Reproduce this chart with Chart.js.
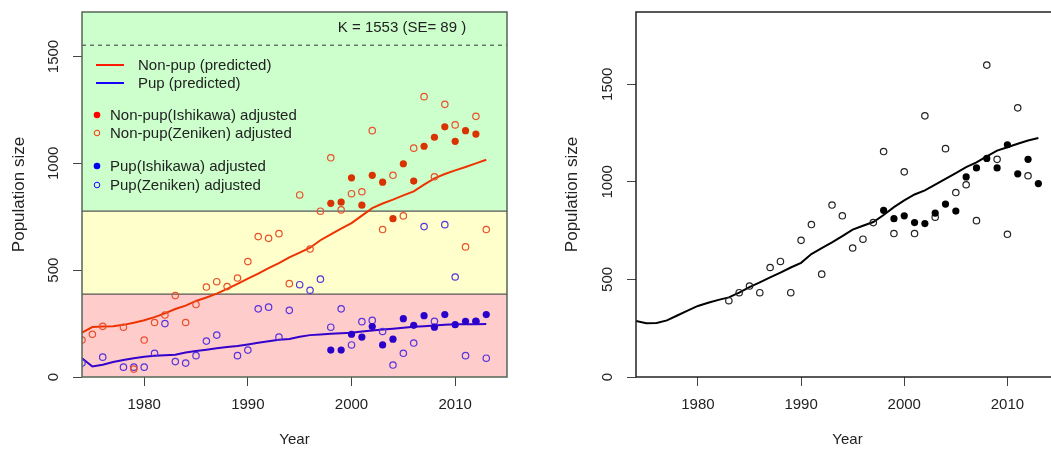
<!DOCTYPE html>
<html>
<head>
<meta charset="utf-8">
<script src="https://cdn.jsdelivr.net/npm/chart.js@4"></script>
<style>
  html, body { margin: 0; padding: 0; background: #fff; overflow: hidden; width: 1051px; height: 455px; }
  #left { position: absolute; left: 0; top: 0; width: 525px; height: 455px; }
  #right { position: absolute; left: 540px; top: 0; width: 530px; height: 455px; }
</style>
</head>
<body>
<div id="left"><canvas id="leftChart"></canvas></div>
<div id="right"><canvas id="rightChart"></canvas></div>
<script>
const years = [1974, 1975, 1976, 1977, 1978, 1979, 1980, 1981, 1982, 1983,
  1984, 1985, 1986, 1987, 1988, 1989, 1990, 1991, 1992, 1993,
  1994, 1995, 1996, 1997, 1998, 1999, 2000, 2001, 2002, 2003,
  2004, 2005, 2006, 2007, 2008, 2009, 2010, 2011, 2012, 2013];
const ishikawaYears = [1998, 1999, 2000, 2001, 2002, 2003, 2004, 2005,
  2006, 2007, 2008, 2009, 2010, 2011, 2012, 2013];

const xTicks = [1980, 1990, 2000, 2010];
const yTicks = [0, 500, 1000, 1500];

const K = 1553;
const kSE = 89;

// left panel: non-pup / pup
const nonPupPred = [208, 234, 236, 238, 244, 254, 266, 280, 298, 318,
  334, 356, 372, 390, 412, 436, 460, 484, 510, 533,
  560, 582, 605, 640, 668, 694, 720, 755, 790, 812,
  830, 850, 869, 900, 930, 950, 967, 983, 1000, 1017];
const pupPred = [88, 49, 57, 70, 80, 88, 95, 100, 102, 104,
  115, 122, 128, 135, 140, 145, 152, 160, 167, 174,
  178, 188, 196, 199, 202, 205, 207, 213, 218, 222,
  226, 230, 235, 238, 241, 244, 247, 247, 247, 248];
const nonPupZeniken = [173, 200, 237, null, 233, 37, 173, 255, 290, 381,
  255, 339, 421, 446, 423, 463, 540, 657, 649, 671,
  437, 852, 599, 776, 1026, 782, 858, 867, 1153, 690,
  944, 754, 1071, 1312, 937, 1276, 1180, 609, 1220, 690];
const pupZeniken = [65, null, 93, null, 46, 46, 46, 111, 250, 72,
  65, 100, 168, 196, null, 100, 126, 319, 327, 187,
  312, 432, 406, 458, 233, 319, 150, 259, 265, 213,
  56, 111, 159, 704, 261, 713, 468, 100, 261, 88];
const nonPupIshikawa = [813, 818, 932, 804, 944, 912, 741, 998,
  917, 1080, 1122, 1171, 1103, 1153, 1137, null];
const pupIshikawa = [126, 126, 200, 187, 236, 150, 177, 273,
  242, 287, 233, 292, 245, 261, 261, 292];

// right panel: total
const totalPred = [287, 276, 277, 290, 315, 340, 364, 380, 395, 408,
  432, 460, 485, 510, 535, 561, 585, 630, 660, 690,
  722, 755, 775, 794, 830, 870, 905, 935, 956, 985,
  1015, 1045, 1075, 1100, 1130, 1160, 1177, 1195, 1212, 1224];
const totalZeniken = [null, null, null, null, null, null, null, null, null, 391,
  432, 466, 432, 561, 592, 432, 700, 781, 527, 881,
  826, 661, 706, 791, 1155, 735, 1051, 735, 1338, 819,
  1170, 945, 985, 801, 1598, 1115, 731, 1379, 1031, null];
const totalIshikawa = [854, 811, 826, 791, 786, 840, 886, 850,
  1025, 1071, 1120, 1071, 1190, 1041, 1115, 991];

const FONT = '"Liberation Sans", Arial, sans-serif';
const TXT = '#222';

function pts(xs, ys) {
  return xs.map((x, i) => ({ x, y: ys[i] })).filter(p => p.y !== null);
}

function lineSet(data, color) {
  return { type: 'line', data, borderColor: color, borderWidth: 2,
    pointRadius: 0, tension: 0, fill: false };
}
function openSet(data, color) {
  return { data, showLine: false, pointRadius: 3.2, pointBorderWidth: 1.2,
    pointBorderColor: color, pointBackgroundColor: 'rgba(0,0,0,0)' };
}
function filledSet(data, color) {
  return { data, showLine: false, pointRadius: 3.6, pointBorderWidth: 0,
    pointBackgroundColor: color, pointBorderColor: color };
}

function makeScales(yMax, yWidth, titlePad) {
  return {
    x: {
      type: 'linear', min: 1974, max: 2015,
      afterBuildTicks: s => { s.ticks = xTicks.map(v => ({ value: v })); },
      afterFit: s => { s.height = 78; },
      ticks: { font: { family: FONT, size: 15 }, color: TXT, padding: 10,
        maxRotation: 0, callback: v => String(v) },
      grid: { drawOnChartArea: false, tickLength: 9, color: '#444' },
      border: { display: false },
      title: { display: true, text: 'Year', color: TXT,
        font: { family: FONT, size: 15 }, padding: { top: 0, bottom: 6 } }
    },
    y: {
      type: 'linear', min: 0, max: yMax,
      afterBuildTicks: s => { s.ticks = yTicks.map(v => ({ value: v })); },
      afterFit: s => { s.width = yWidth; },
      ticks: { color: 'rgba(0,0,0,0)', font: { family: FONT, size: 15 } },
      grid: { drawOnChartArea: false, tickLength: 9, color: '#444' },
      border: { display: false },
      title: { display: true, text: 'Population size', color: TXT,
        font: { family: FONT, size: 17 }, padding: { top: titlePad, bottom: 0 } }
    }
  };
}

// rotated y tick labels + frame
function frameAndLabels(boxColor) {
  return {
    id: 'frameAndLabels',
    afterDraw(chart) {
      const { ctx, chartArea: a, scales: { y } } = chart;
      ctx.save();
      ctx.strokeStyle = boxColor;
      ctx.lineWidth = 1.5;
      ctx.strokeRect(a.left, a.top, a.right - a.left, a.bottom - a.top);
      ctx.font = '15px ' + FONT;
      ctx.fillStyle = TXT;
      ctx.textAlign = 'center';
      ctx.textBaseline = 'middle';
      y.ticks.forEach(t => {
        ctx.save();
        ctx.translate(a.left - 28, y.getPixelForValue(t.value));
        ctx.rotate(-Math.PI / 2);
        ctx.fillText(String(t.value), 0, 0);
        ctx.restore();
      });
      ctx.restore();
    }
  };
}

const bands = {
  id: 'bands',
  beforeDatasetsDraw(chart) {
    const { ctx, chartArea: a, scales: { y } } = chart;
    const yQ = y.getPixelForValue(K / 4);
    const yH = y.getPixelForValue(K / 2);
    const yK = y.getPixelForValue(K);
    ctx.save();
    ctx.fillStyle = '#CCFFCC';
    ctx.fillRect(a.left, a.top, a.right - a.left, yH - a.top);
    ctx.fillStyle = '#FFFFCC';
    ctx.fillRect(a.left, yH, a.right - a.left, yQ - yH);
    ctx.fillStyle = '#FFCCCC';
    ctx.fillRect(a.left, yQ, a.right - a.left, a.bottom - yQ);
    ctx.strokeStyle = '#555';
    ctx.lineWidth = 1.2;
    [yQ, yH].forEach(py => {
      ctx.beginPath(); ctx.moveTo(a.left, py); ctx.lineTo(a.right, py); ctx.stroke();
    });
    ctx.strokeStyle = '#333';
    ctx.lineWidth = 1;
    ctx.setLineDash([4, 4]);
    ctx.beginPath(); ctx.moveTo(a.left, yK); ctx.lineTo(a.right, yK); ctx.stroke();
    ctx.setLineDash([]);
    ctx.font = '15px ' + FONT;
    ctx.fillStyle = TXT;
    ctx.textAlign = 'center';
    ctx.textBaseline = 'middle';
    ctx.fillText('K = ' + K + ' (SE= ' + kSE + ' )', a.right - 105, a.top + 16);
    ctx.restore();
  }
};

const legendItems = [
  { kind: 'line', color: '#FF1A00', text: 'Non-pup (predicted)', dy: 53 },
  { kind: 'line', color: '#1A00FF', text: 'Pup (predicted)', dy: 71 },
  { kind: 'filled', color: '#FF0000', text: 'Non-pup(Ishikawa) adjusted', dy: 103 },
  { kind: 'open', color: '#FF3300', text: 'Non-pup(Zeniken) adjusted', dy: 121 },
  { kind: 'filled', color: '#0000EE', text: 'Pup(Ishikawa) adjusted', dy: 154 },
  { kind: 'open', color: '#2200FF', text: 'Pup(Zeniken) adjusted', dy: 173 }
];

const innerLegend = {
  id: 'innerLegend',
  afterDatasetsDraw(chart) {
    const { ctx, chartArea: a } = chart;
    ctx.save();
    ctx.font = '15px ' + FONT;
    ctx.textBaseline = 'middle';
    ctx.textAlign = 'left';
    legendItems.forEach(it => {
      const py = a.top + it.dy;
      if (it.kind === 'line') {
        ctx.strokeStyle = it.color;
        ctx.lineWidth = 2;
        ctx.beginPath(); ctx.moveTo(a.left + 14, py); ctx.lineTo(a.left + 42, py); ctx.stroke();
        ctx.fillStyle = TXT;
        ctx.fillText(it.text, a.left + 56, py + 1);
      } else {
        ctx.beginPath();
        ctx.arc(a.left + 15, py, it.kind === 'filled' ? 3.3 : 2.8, 0, Math.PI * 2);
        if (it.kind === 'filled') { ctx.fillStyle = it.color; ctx.fill(); }
        else { ctx.strokeStyle = it.color; ctx.lineWidth = 1; ctx.stroke(); }
        ctx.fillStyle = TXT;
        ctx.fillText(it.text, a.left + 28, py + 1);
      }
    });
    ctx.restore();
  }
};

const common = {
  responsive: true,
  maintainAspectRatio: false,
  animation: false,
  events: [],
  plugins: { legend: { display: false }, tooltip: { enabled: false } }
};

new Chart(document.getElementById('leftChart'), {
  type: 'scatter',
  data: {
    datasets: [
      filledSet(pts(ishikawaYears, nonPupIshikawa), '#D83300'),
      openSet(pts(years, nonPupZeniken), '#E8502A'),
      filledSet(pts(ishikawaYears, pupIshikawa), '#2A00CC'),
      openSet(pts(years, pupZeniken), '#5533DD'),
      lineSet(pts(years, nonPupPred), '#EE3300'),
      lineSet(pts(years, pupPred), '#3300CC')
    ]
  },
  options: Object.assign({}, common, {
    layout: { padding: { top: 9, right: 18, left: 0, bottom: 0 } },
    scales: makeScales(K * 1.1, 82, 9)
  }),
  plugins: [bands, innerLegend, frameAndLabels('#556655')]
});

new Chart(document.getElementById('rightChart'), {
  type: 'scatter',
  data: {
    datasets: [
      filledSet(pts(ishikawaYears, totalIshikawa), '#000'),
      openSet(pts(years, totalZeniken), '#222'),
      lineSet(pts(years, totalPred), '#000')
    ]
  },
  options: Object.assign({}, common, {
    layout: { padding: { top: 11, right: 11, left: 0, bottom: 0 } },
    scales: makeScales(1870, 96, 22)
  }),
  plugins: [frameAndLabels('#222')]
});
</script>
</body>
</html>
